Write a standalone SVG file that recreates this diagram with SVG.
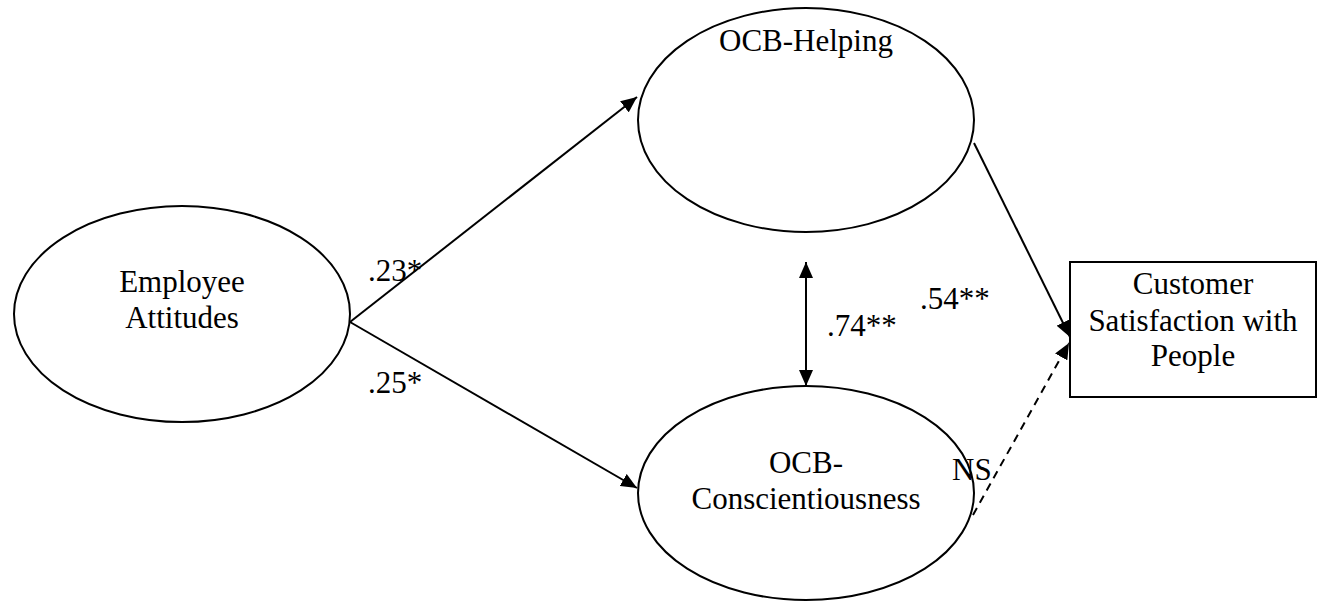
<svg xmlns="http://www.w3.org/2000/svg" width="1319" height="605" viewBox="0 0 1319 605">
<defs>
<style>
.n{fill:#fff;stroke:#000;stroke-width:2}
.t{font-family:"Liberation Serif","Times New Roman",serif;font-size:31px;fill:#000;text-anchor:middle}
.l{font-family:"Liberation Serif","Times New Roman",serif;font-size:31px;fill:#000}
.c{stroke:#000;stroke-width:2;fill:none}
.d{stroke-dasharray:8,6}
</style>
<marker id="ah" viewBox="0 0 10 10" refX="10" refY="5" markerWidth="16" markerHeight="14" markerUnits="userSpaceOnUse" orient="auto-start-reverse" preserveAspectRatio="none">
<path d="M0,0 L10,5 L0,10 z" fill="#000"/>
</marker>
</defs>
<rect width="1319" height="605" fill="#fff"/>
<g id="n-employee">
<ellipse class="n" cx="182" cy="314" rx="168" ry="108"/>
<text class="t" x="182" y="292">Employee</text>
<text class="t" x="182" y="328">Attitudes</text>
</g>
<g id="n-helping">
<ellipse class="n" cx="806" cy="120" rx="168" ry="112"/>
<text class="t" x="806" y="51">OCB-Helping</text>
</g>
<g id="n-consc">
<ellipse class="n" cx="806" cy="493" rx="168" ry="107"/>
<text class="t" x="806" y="473">OCB-</text>
<text class="t" x="806" y="509">Conscientiousness</text>
</g>
<g id="n-customer">
<rect class="n" x="1070" y="262" width="246" height="135"/>
<text class="t" x="1193" y="294">Customer</text>
<text class="t" x="1193" y="331">Satisfaction with</text>
<text class="t" x="1193" y="366">People</text>
</g>
<g id="connectors">
<line class="c" x1="350" y1="322" x2="637" y2="97" marker-end="url(#ah)"/>
<line class="c" x1="350" y1="322" x2="637" y2="488" marker-end="url(#ah)"/>
<line class="c" x1="806" y1="262" x2="806" y2="386" marker-start="url(#ah)" marker-end="url(#ah)"/>
<line class="c" x1="974" y1="143" x2="1070" y2="337" marker-end="url(#ah)"/>
<line class="c d" x1="973" y1="515" x2="1069" y2="343" marker-end="url(#ah)"/>
<text class="l" x="368" y="281">.23*</text>
<text class="l" x="368" y="393">.25*</text>
<text class="l" x="827" y="336">.74**</text>
<text class="l" x="920" y="309">.54**</text>
<text class="l" x="952" y="480">NS</text>
</g>
</svg>
